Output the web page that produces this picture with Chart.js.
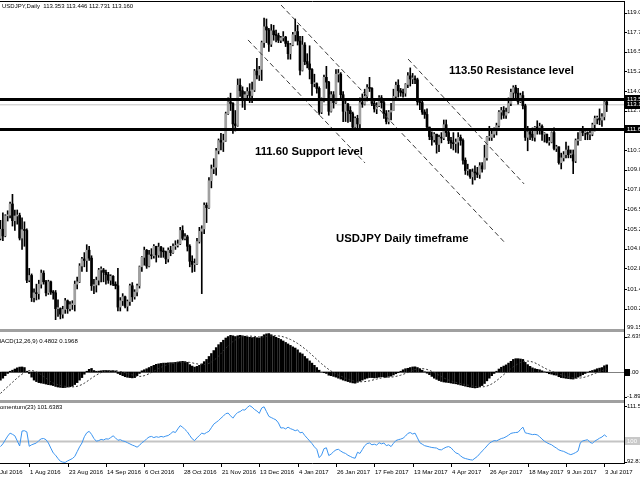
<!DOCTYPE html>
<html>
<head>
<meta charset="utf-8">
<script src="https://cdn.jsdelivr.net/npm/chart.js@4.4.1/dist/chart.umd.min.js"></script>
<style>
  html, body { margin: 0; padding: 0; background: #fff; }
  #wrap { position: relative; width: 640px; height: 480px; overflow: hidden; background: #fff; }
  canvas { position: absolute; left: 0; }
</style>
</head>
<body>
<div id="wrap">
  <canvas id="mainChart" width="640" height="330" style="top:0px"></canvas>
  <canvas id="macdChart" width="640" height="74" style="top:329px"></canvas>
  <canvas id="momChart" width="640" height="80" style="top:400px"></canvas>
</div>
<script>
// === Datos: USDJPY diario, 14 jul 2016 - 4 jul 2017 (una vela por dia habil) ===
const aperturaInicial = 104.70; // apertura de la primera vela; las demas abren en el cierre anterior

const cierres = [
  105.28, 104.86,
  106.13, 106.17, 106.88, 105.82, 106.12,
  106.15, 104.72, 105.25, 105.20, 102.05,
  102.35, 100.95, 101.25, 101.20, 101.80,
  102.50, 101.95, 101.25, 101.95, 101.30,
  101.25, 100.25, 100.25, 99.90, 100.20,
  100.75, 100.25, 100.50, 100.50, 101.80,
  101.95, 102.95, 103.40, 103.30, 103.95,
  103.45, 101.70, 101.75, 102.05, 102.70,
  102.70, 102.55, 102.40, 102.05, 102.30,
  101.80, 101.70, 100.35, 100.75, 101.00,
  100.40, 100.70, 101.70, 101.00, 101.30,
  101.70, 102.90, 103.50, 103.95, 102.95,
  103.65, 103.60, 104.20, 103.65, 104.15,
  103.90, 103.85, 103.40, 103.95, 103.80,
  104.20, 104.25, 104.35, 105.20, 104.70,
  104.80, 104.20, 103.25, 103.05, 103.10,
  104.50, 105.15, 105.30, 106.80, 106.65,
  108.35, 109.10, 109.20, 110.25, 110.90,
  110.80, 110.90, 112.60, 113.35, 113.25,
  111.95, 111.85, 114.40, 114.05, 113.50,
  113.80, 114.00, 113.75, 114.10, 115.30,
  115.05, 115.40, 117.10, 118.10, 117.90,
  117.00, 117.85, 117.60, 117.55, 117.25,
  117.40, 117.45, 117.05, 116.40, 116.95,
  117.60, 117.80, 117.20, 115.35, 116.95,
  115.90, 115.75, 115.40, 114.50, 114.50,
  114.20, 112.70, 113.40, 114.90, 114.60,
  112.75, 113.80, 113.30, 115.10, 115.10,
  113.80, 112.75, 113.20, 112.80, 112.60,
  111.75, 112.30, 111.95, 113.30, 113.20,
  113.70, 114.25, 114.20, 113.25, 112.90,
  113.10, 113.60, 113.30, 112.60, 112.10,
  112.70, 112.80, 113.70, 114.40, 114.05,
  113.95, 113.90, 114.45, 115.00, 114.80,
  114.80, 114.75, 113.35, 113.30, 112.70,
  112.55, 111.75, 111.15, 110.95, 111.30,
  110.65, 111.10, 111.05, 111.90, 111.40,
  110.90, 110.75, 110.70, 110.80, 111.10,
  110.90, 109.65, 109.00, 109.05, 108.60,
  108.90, 108.85, 108.75, 109.30, 109.10,
  109.80, 111.10, 111.10, 111.30, 111.50,
  111.85, 112.70, 112.80, 112.50, 112.70,
  113.25, 113.95, 114.25, 113.90, 113.35,
  113.75, 113.10, 111.10, 111.45, 111.30,
  111.10, 111.75, 111.60, 111.80, 111.30,
  111.30, 110.80, 110.80, 111.40, 110.40,
  110.50, 109.50, 109.80, 110.00, 110.30,
  110.00, 110.00, 109.60, 110.90, 110.90,
  111.55, 111.40, 111.40, 111.30, 111.30,
  111.90, 112.30, 112.30, 112.20, 112.40,
  113.35, 113.16
];

const maximos = [
  105.85, 106.32,
  106.20, 106.45, 107.00, 107.49, 106.50,
  106.50, 106.30, 106.00, 105.75, 105.30,
  102.80, 102.45, 101.50, 101.80, 102.05,
  102.70, 102.65, 102.05, 102.05, 102.00,
  101.40, 101.40, 100.80, 100.30, 100.40,
  100.90, 100.80, 100.70, 100.75, 102.00,
  102.25, 103.10, 103.50, 103.80, 104.30,
  104.20, 103.60, 102.10, 102.25, 102.80,
  102.90, 102.80, 102.70, 102.55, 102.40,
  102.35, 101.95, 102.80, 100.95, 101.20,
  101.05, 100.80, 101.80, 101.90, 101.45,
  101.80, 102.95, 103.55, 104.15, 104.00,
  103.95, 104.05, 104.30, 104.20, 104.40,
  104.20, 104.10, 103.90, 104.10, 104.20,
  104.35, 104.55, 104.60, 105.40, 105.50,
  105.00, 104.90, 104.30, 103.60, 103.40,
  104.70, 105.40, 105.50, 106.95, 106.95,
  108.55, 109.35, 109.75, 110.40, 111.00,
  111.35, 111.30, 112.70, 113.60, 113.90,
  113.30, 112.80, 114.80, 114.80, 114.30,
  114.00, 114.25, 114.50, 114.60, 115.40,
  116.10, 115.60, 117.20, 118.66, 118.60,
  118.00, 118.25, 118.20, 117.90, 117.70,
  117.50, 117.80, 117.50, 117.20, 117.05,
  117.75, 118.60, 118.20, 117.50, 117.50,
  117.10, 116.40, 116.90, 115.45, 115.10,
  114.55, 114.30, 113.60, 115.05, 115.60,
  114.65, 114.00, 114.00, 115.40, 115.40,
  115.20, 114.00, 113.40, 113.25, 113.05,
  112.70, 112.40, 112.50, 113.60, 113.85,
  114.15, 114.45, 114.90, 114.25, 113.55,
  113.30, 113.75, 113.75, 113.40, 112.80,
  112.80, 113.25, 114.15, 114.60, 114.75,
  114.20, 114.15, 114.50, 115.20, 115.50,
  115.15, 115.00, 114.85, 113.55, 113.40,
  112.85, 112.90, 111.75, 111.45, 111.40,
  111.30, 111.25, 111.40, 112.20, 112.20,
  111.60, 111.10, 111.40, 111.00, 111.40,
  111.25, 111.00, 109.80, 109.40, 109.05,
  109.10, 109.30, 109.20, 109.50, 109.50,
  110.60, 111.15, 111.80, 111.50, 111.70,
  112.00, 112.80, 113.00, 113.05, 112.95,
  113.60, 114.15, 114.37, 114.40, 114.20,
  113.90, 114.00, 113.20, 111.80, 111.60,
  111.70, 111.80, 112.15, 112.00, 111.90,
  111.40, 111.30, 111.10, 111.45, 111.70,
  110.60, 110.50, 110.10, 110.20, 110.80,
  110.55, 110.30, 110.30, 111.00, 111.40,
  111.60, 111.80, 111.60, 111.45, 111.50,
  112.00, 112.45, 112.45, 112.90, 112.60,
  113.45, 113.446
];

const minimos = [
  104.60, 104.55,
  104.80, 105.80, 106.00, 105.48, 105.20,
  105.60, 104.60, 104.00, 104.20, 101.90,
  101.95, 100.70, 100.68, 100.80, 100.85,
  101.55, 101.80, 101.05, 101.15, 101.15,
  100.85, 99.55, 99.75, 99.60, 99.65,
  99.95, 99.95, 100.10, 100.20, 100.10,
  101.50, 101.90, 102.60, 102.90, 102.60,
  103.30, 101.40, 101.20, 101.30, 101.75,
  101.95, 101.95, 101.80, 101.85, 101.75,
  101.70, 101.50, 100.10, 100.10, 100.45,
  100.30, 100.10, 100.45, 100.70, 100.85,
  101.05, 101.55, 102.60, 103.00, 102.80,
  102.90, 103.40, 103.45, 103.20, 103.50,
  103.50, 103.50, 103.10, 103.20, 103.60,
  103.75, 104.00, 104.15, 104.30, 104.60,
  104.60, 103.90, 102.90, 102.55, 102.60,
  103.05, 104.40, 101.20, 105.00, 105.70,
  106.60, 107.90, 108.80, 108.70, 110.05,
  110.30, 110.20, 110.85, 112.55, 112.80,
  111.35, 111.50, 111.80, 113.70, 113.00,
  112.85, 113.60, 113.30, 113.30, 114.00,
  114.80, 114.70, 114.70, 116.80, 117.10,
  116.55, 116.85, 117.25, 117.15, 117.10,
  117.10, 117.20, 116.85, 116.05, 116.05,
  116.90, 117.20, 116.95, 115.05, 115.30,
  115.70, 115.50, 114.80, 113.75, 114.30,
  113.90, 112.55, 112.60, 113.35, 114.20,
  112.50, 112.70, 112.95, 113.25, 114.60,
  113.55, 112.10, 112.10, 112.05, 112.10,
  111.60, 111.60, 111.60, 111.70, 113.00,
  113.15, 113.40, 114.00, 113.10, 112.70,
  112.60, 113.05, 112.95, 112.30, 111.95,
  111.95, 112.20, 112.80, 113.60, 113.65,
  113.70, 113.65, 113.70, 114.25, 114.35,
  114.50, 114.50, 113.15, 112.85, 112.55,
  112.30, 111.70, 110.95, 110.60, 110.80,
  110.10, 110.20, 110.75, 110.95, 111.15,
  110.70, 110.40, 110.30, 110.15, 110.10,
  110.60, 109.40, 108.75, 108.70, 108.50,
  108.13, 108.40, 108.55, 108.50, 108.90,
  109.10, 109.65, 110.90, 110.90, 111.10,
  111.25, 111.75, 112.25, 112.30, 112.30,
  112.65, 113.10, 113.60, 113.50, 113.20,
  113.30, 112.90, 110.90, 110.25, 110.95,
  110.90, 110.85, 111.30, 111.30, 110.90,
  110.80, 110.75, 110.60, 110.75, 110.30,
  110.20, 109.40, 109.10, 109.60, 109.80,
  109.80, 109.80, 108.80, 109.50, 110.60,
  110.90, 111.20, 110.95, 110.95, 110.95,
  111.20, 111.50, 111.95, 111.90, 111.80,
  112.20, 112.731
];

const macdPrincipal = [
  -0.55, -0.42, -0.25, -0.10, 0.05, 0.12, 0.20, 0.28, 0.33, 0.34,
  0.30, 0.05, -0.10, -0.35, -0.55, -0.65, -0.72, -0.75, -0.78, -0.82,
  -0.86, -0.88, -0.92, -0.98, -1.02, -1.04, -1.06, -1.05, -1.02, -1.00,
  -0.96, -0.85, -0.72, -0.55, -0.38, -0.15, 0.05, 0.18, 0.24, 0.10,
  0.05, 0.06, 0.08, 0.10, 0.10, 0.09, 0.08, 0.08, 0.07, -0.10,
  -0.18, -0.25, -0.32, -0.36, -0.38, -0.40, -0.38, -0.25, -0.10, 0.08,
  0.15, 0.22, 0.30, 0.38, 0.45, 0.52, 0.55, 0.58, 0.60, 0.60,
  0.62, 0.63, 0.63, 0.65, 0.68, 0.70, 0.72, 0.70, 0.65, 0.50,
  0.40, 0.33, 0.38, 0.45, 0.55, 0.70, 0.85, 1.05, 1.25, 1.45,
  1.65, 1.85, 2.00, 2.15, 2.30, 2.40, 2.48, 2.45, 2.40, 2.45,
  2.48, 2.45, 2.42, 2.38, 2.35, 2.33, 2.35, 2.32, 2.30, 2.40,
  2.52, 2.58, 2.60, 2.52, 2.42, 2.35, 2.28, 2.20, 2.10, 2.00,
  1.90, 1.80, 1.70, 1.62, 1.50, 1.30, 1.22, 1.05, 0.90, 0.75,
  0.60, 0.45, 0.30, 0.12, 0.00, -0.05, -0.10, -0.22, -0.25, -0.30,
  -0.35, -0.42, -0.48, -0.55, -0.60, -0.65, -0.70, -0.74, -0.76, -0.70,
  -0.62, -0.55, -0.48, -0.42, -0.38, -0.38, -0.40, -0.38, -0.35, -0.32,
  -0.34, -0.36, -0.30, -0.28, -0.20, -0.12, -0.05, 0.05, 0.15, 0.22,
  0.25, 0.30, 0.34, 0.35, 0.30, 0.22, 0.12, 0.02, -0.08, -0.18,
  -0.30, -0.42, -0.50, -0.58, -0.64, -0.68, -0.70, -0.72, -0.75, -0.78,
  -0.80, -0.84, -0.88, -0.92, -0.96, -1.00, -1.03, -1.06, -1.08, -1.06,
  -1.00, -0.92, -0.78, -0.60, -0.42, -0.25, -0.10, 0.05, 0.20, 0.32,
  0.40, 0.48, 0.60, 0.72, 0.85, 0.90, 0.90, 0.88, 0.85, 0.65,
  0.50, 0.38, 0.28, 0.22, 0.18, 0.15, 0.08, 0.02, -0.05, -0.12,
  -0.15, -0.20, -0.22, -0.32, -0.38, -0.40, -0.43, -0.45, -0.47, -0.48,
  -0.42, -0.35, -0.28, -0.18, -0.10, -0.02, 0.05, 0.10, 0.15, 0.22,
  0.26, 0.30, 0.42, 0.48
];

const macdSenal = [
  -1.45, -1.30, -1.15, -1.00, -0.85, -0.70, -0.55, -0.40, -0.27, -0.15,
  -0.04, 0.05, 0.10, 0.10, 0.06, 0.00, -0.08, -0.18, -0.30, -0.42,
  -0.55, -0.66, -0.75, -0.82, -0.87, -0.91, -0.94, -0.97, -0.99, -1.01,
  -1.01, -1.00, -0.97, -0.92, -0.85, -0.76, -0.65, -0.54, -0.42, -0.31,
  -0.21, -0.12, -0.04, 0.03, 0.07, 0.09, 0.09, 0.08, 0.08, 0.06,
  0.03, 0.00, -0.05, -0.10, -0.15, -0.20, -0.25, -0.29, -0.30, -0.29,
  -0.25, -0.19, -0.12, -0.04, 0.05, 0.14, 0.23, 0.32, 0.40, 0.46,
  0.52, 0.56, 0.59, 0.61, 0.63, 0.65, 0.66, 0.67, 0.67, 0.65,
  0.62, 0.58, 0.55, 0.52, 0.50, 0.50, 0.53, 0.58, 0.67, 0.78,
  0.92, 1.07, 1.24, 1.42, 1.60, 1.77, 1.93, 2.06, 2.17, 2.27,
  2.34, 2.39, 2.42, 2.43, 2.43, 2.42, 2.41, 2.39, 2.37, 2.37,
  2.38, 2.40, 2.42, 2.44, 2.45, 2.45, 2.44, 2.42, 2.38, 2.33,
  2.27, 2.20, 2.12, 2.03, 1.93, 1.82, 1.70, 1.57, 1.44, 1.30,
  1.15, 1.00, 0.85, 0.70, 0.56, 0.42, 0.29, 0.17, 0.06, -0.04,
  -0.13, -0.21, -0.28, -0.35, -0.42, -0.48, -0.54, -0.59, -0.63, -0.65,
  -0.66, -0.66, -0.65, -0.63, -0.60, -0.56, -0.52, -0.48, -0.44, -0.40,
  -0.38, -0.37, -0.36, -0.35, -0.33, -0.30, -0.26, -0.22, -0.16, -0.10,
  -0.03, 0.04, 0.11, 0.17, 0.21, 0.23, 0.23, 0.21, 0.17, 0.11,
  0.04, -0.04, -0.13, -0.22, -0.31, -0.40, -0.48, -0.55, -0.61, -0.66,
  -0.70, -0.74, -0.78, -0.82, -0.86, -0.89, -0.92, -0.95, -0.98, -1.00,
  -1.01, -1.01, -0.99, -0.95, -0.89, -0.81, -0.71, -0.59, -0.46, -0.32,
  -0.18, -0.05, 0.09, 0.22, 0.35, 0.46, 0.56, 0.64, 0.70, 0.73,
  0.74, 0.72, 0.68, 0.62, 0.54, 0.45, 0.36, 0.27, 0.19, 0.12,
  0.05, -0.01, -0.07, -0.13, -0.19, -0.25, -0.30, -0.34, -0.38, -0.41,
  -0.42, -0.42, -0.41, -0.38, -0.34, -0.29, -0.23, -0.17, -0.10, -0.04,
  0.03, 0.09, 0.15, 0.20
];

// Momentum(23)
const momento = [
  98.3, 99.2, 100.5, 101.8, 102.8, 102.4, 101.9, 100.2, 98.5, 103.5,
  103.6, 103.2, 98.4, 98.9, 99.2, 99.5, 100.3, 100.9, 101.0, 100.6,
  99.5, 97.8, 96.2, 95.4, 94.3, 93.4, 93.1, 93.0, 93.5, 93.9,
  94.3, 95.0, 96.6, 98.2, 99.5, 101.6, 102.9, 103.4, 102.4, 101.0,
  100.1, 100.3, 100.7, 100.5, 100.9, 100.8, 101.3, 101.9, 101.2, 100.4,
  100.6, 100.2, 100.0, 99.6, 99.2, 98.8, 98.5, 98.1, 98.7, 99.6,
  100.1, 100.9, 101.5, 101.7, 101.3, 101.6, 101.4, 101.7, 101.5, 101.8,
  102.0, 102.6, 103.3, 103.0, 104.2, 105.3, 104.8, 104.0, 103.2, 102.0,
  100.9, 100.3, 101.2, 102.0, 102.8, 102.5, 103.0, 103.4, 104.6, 105.8,
  106.4, 107.0, 107.8, 108.5, 109.3, 109.5, 108.6, 107.8, 108.9, 109.7,
  110.0, 110.6, 110.5, 111.4, 112.0, 111.5, 110.7, 110.2, 109.4, 111.2,
  111.6, 110.0, 108.4, 108.0, 107.6, 107.2, 106.2, 104.5, 104.6, 104.2,
  104.8, 104.3, 104.0, 103.6, 103.9, 102.9, 103.1, 102.0, 101.1, 100.2,
  99.3, 98.2, 97.4, 94.6, 95.5, 97.6, 97.9, 95.3, 95.8, 96.6,
  97.2, 97.4, 96.8, 96.3, 96.0, 95.4, 95.0, 94.6, 94.4, 96.4,
  96.0, 97.3, 98.6, 99.3, 99.5, 98.9, 99.1, 98.8, 99.6, 99.2,
  99.5, 98.6, 98.9, 98.3, 99.4, 100.3, 100.6, 100.8, 101.1, 101.8,
  102.7, 103.0, 102.5, 102.8, 101.2, 99.6, 99.1, 98.6, 98.4, 98.2,
  98.0, 97.9, 97.8, 97.3, 97.2, 97.7, 98.1, 98.3, 97.9, 97.0,
  96.2, 95.9, 95.2, 94.6, 94.3, 94.1, 93.9, 93.8, 94.4, 95.0,
  95.9, 96.8, 97.6, 98.5, 99.4, 99.9, 100.3, 100.2, 100.6, 101.0,
  101.2, 101.6, 102.1, 102.7, 102.9, 103.0, 103.1, 104.0, 104.8, 102.9,
  102.7, 102.5, 102.3, 102.4, 102.2, 101.6, 100.8, 100.1, 99.6, 99.2,
  98.9, 98.3, 97.8, 97.2, 96.9, 96.7, 96.3, 95.9, 95.6, 95.9,
  96.3, 96.8, 99.6, 100.2, 100.4, 100.6, 99.7, 99.4, 100.1, 100.6,
  101.1, 101.5, 102.2, 101.6
];

// Eje de tiempo: etiqueta y vela (indice) donde va
const etiquetasFecha = ["11 Jul 2016", "1 Aug 2016", "23 Aug 2016", "14 Sep 2016", "6 Oct 2016",
  "28 Oct 2016", "21 Nov 2016", "13 Dec 2016", "4 Jan 2017", "26 Jan 2017", "17 Feb 2017",
  "13 Mar 2017", "4 Apr 2017", "26 Apr 2017", "18 May 2017", "9 Jun 2017", "3 Jul 2017"];
const barrasFecha = [-4, 12, 28, 44, 60, 76, 92, 108, 124, 140, 156, 172, 188, 204, 220, 236, 252];

// Eje de precios
const ticksPrecio = [119.00, 117.75, 116.52, 115.29, 114.04, 112.79, 111.54, 110.30,
  109.05, 107.80, 106.55, 105.29, 104.05, 102.80, 101.49, 100.24];

const resistencia = 113.50;
const soporte = 111.60;
const precioBid = 113.16;

// Lineas de tendencia: [vela inicio, precio inicio, vela fin, precio fin]
const lineasTendencia = [
  [117.1, 119.48, 210.6, 104.41],
  [103.3, 117.27, 152.1, 109.48],
  [170.1, 116.06, 218.5, 108.15]
];

// === Configuracion comun ===
const X_MIN = -0.2;
const X_MAX = 260.2;
const EJE_X = 624;
const FUENTE = '6px "Liberation Sans", Arial, sans-serif';
const FUENTE_NOTA = 'bold 11.3px "Liberation Sans", Arial, sans-serif';
const GRIS_SEPARADOR = "#a0a0a0";

function opcionesBase(yMin, yMax, padding) {
  return {
    responsive: false,
    animation: false,
    devicePixelRatio: 1,
    events: [],
    layout: { padding },
    plugins: { legend: { display: false }, tooltip: { enabled: false } },
    scales: {
      x: { type: "linear", min: X_MIN, max: X_MAX, offset: false, display: false },
      y: { min: yMin, max: yMax, beginAtZero: false, display: false }
    }
  };
}

function lineaHorizontal(valor) {
  return [{ x: X_MIN - 5, y: valor }, { x: X_MAX + 5, y: valor }];
}

function etiquetaCaja(ctx, texto, y, fondo, color) {
  ctx.fillStyle = fondo;
  ctx.fillRect(EJE_X + 1, Math.round(y) - 4, 20, 8);
  ctx.fillStyle = color;
  ctx.fillText(texto, EJE_X + 3, y);
}

function marcaEje(ctx, y) {
  ctx.fillStyle = "#000";
  ctx.fillRect(EJE_X + 1, Math.round(y), 2, 1);
}

// === Grafico principal (velas) ===
const aperturas = cierres.map((c, i) => (i === 0 ? aperturaInicial : cierres[i - 1]));
const datosMecha = maximos.map((h, i) => ({ x: i, y: [minimos[i], h] }));
const datosCuerpo = cierres.map((c, i) => ({ x: i, y: [aperturas[i], c] }));

const decoracionPrincipal = {
  id: "decoracionPrincipal",
  afterDraw(chart) {
    const { ctx } = chart;
    const y = chart.scales.y;
    ctx.save();
    // marco
    ctx.strokeStyle = "#000";
    ctx.lineWidth = 1;
    ctx.beginPath();
    ctx.moveTo(0, 1.5);
    ctx.lineTo(EJE_X + 1, 1.5);
    ctx.moveTo(EJE_X + 0.5, 1);
    ctx.lineTo(EJE_X + 0.5, 330);
    ctx.stroke();

    ctx.font = FUENTE;
    ctx.textBaseline = "middle";
    ctx.textAlign = "left";
    ticksPrecio.forEach(v => {
      const py = y.getPixelForValue(v);
      marcaEje(ctx, py);
      ctx.fillText(v.toFixed(3), EJE_X + 3, py);
    });
    ctx.fillText("99.150", EJE_X + 3, 327.5);

    etiquetaCaja(ctx, resistencia.toFixed(3), y.getPixelForValue(resistencia), "#000", "#fff");
    etiquetaCaja(ctx, precioBid.toFixed(3), y.getPixelForValue(precioBid), "#000", "#fff");
    etiquetaCaja(ctx, soporte.toFixed(3), y.getPixelForValue(soporte), "#000", "#fff");

    // titulo
    ctx.fillStyle = "#000";
    ctx.fillText("USDJPY,Daily  113.353 113.446 112.731 113.160", 2, 6.5);

    // notas
    ctx.font = FUENTE_NOTA;
    ctx.fillText("113.50 Resistance level", 449, 71);
    ctx.fillText("111.60 Support level", 255, 151.5);
    ctx.fillText("USDJPY Daily timeframe", 336, 239);
    ctx.restore();
  }
};

new Chart(document.getElementById("mainChart"), {
  type: "bar",
  data: {
    datasets: [
      { type: "line", data: lineaHorizontal(resistencia), borderColor: "#000", borderWidth: 3, pointRadius: 0, order: 0 },
      { type: "line", data: lineaHorizontal(soporte), borderColor: "#000", borderWidth: 3, pointRadius: 0, order: 0 },
      ...lineasTendencia.map(t => ({
        type: "line",
        data: [{ x: t[0], y: t[1] }, { x: t[2], y: t[3] }],
        borderColor: "#3a3a3a",
        borderWidth: 1,
        borderDash: [5, 3],
        pointRadius: 0,
        order: 0
      })),
      {
        data: datosCuerpo,
        backgroundColor: c => (cierres[c.dataIndex] >= aperturas[c.dataIndex] ? "#a0a0a0" : "#000"),
        barThickness: 2,
        minBarLength: 1,
        grouped: false,
        order: 1
      },
      { data: datosMecha, backgroundColor: "#000", barThickness: 1, grouped: false, order: 2 },
      { type: "line", data: lineaHorizontal(precioBid), borderColor: "#c4c4c4", borderWidth: 1, pointRadius: 0, order: 3 }
    ]
  },
  options: opcionesBase(98.96, 119.61, { left: 0, right: 16, top: 3, bottom: 1 }),
  plugins: [decoracionPrincipal]
});

// === Panel MACD ===
const decoracionMacd = {
  id: "decoracionMacd",
  beforeDatasetsDraw(chart) {
    const { ctx } = chart;
    const y0 = Math.round(chart.scales.y.getPixelForValue(0)) + 0.5;
    ctx.save();
    ctx.strokeStyle = "#808080";
    ctx.lineWidth = 1;
    ctx.beginPath();
    ctx.moveTo(0, y0);
    ctx.lineTo(EJE_X, y0);
    ctx.stroke();
    ctx.restore();
  },
  afterDraw(chart) {
    const { ctx } = chart;
    const y = chart.scales.y;
    ctx.save();
    ctx.fillStyle = GRIS_SEPARADOR;
    ctx.fillRect(0, 0, EJE_X, 3);
    ctx.fillRect(0, 71, EJE_X, 3);
    ctx.strokeStyle = "#000";
    ctx.beginPath();
    ctx.moveTo(EJE_X + 0.5, 0);
    ctx.lineTo(EJE_X + 0.5, 74);
    ctx.stroke();

    ctx.font = FUENTE;
    ctx.textBaseline = "middle";
    ctx.fillStyle = "#000";
    marcaEje(ctx, 7.5);
    ctx.fillText("2.639", EJE_X + 3, 7.7);
    const y0 = y.getPixelForValue(0);
    ctx.fillRect(EJE_X + 1, Math.round(y0) - 3, 5, 7);
    ctx.fillText("0.00", EJE_X + 3, y0);
    marcaEje(ctx, 67.5);
    ctx.fillText("-1.897", EJE_X + 3, 67.7);
    ctx.fillText("MACD(12,26,9) 0.4802 0.1968", -4, 12.5);
    ctx.restore();
  }
};

new Chart(document.getElementById("macdChart"), {
  type: "bar",
  data: {
    datasets: [
      {
        type: "line",
        data: macdSenal.map((v, i) => ({ x: i, y: v })),
        borderColor: "#333",
        borderWidth: 1,
        borderDash: [2, 2],
        pointRadius: 0,
        order: 0
      },
      {
        data: macdPrincipal.map((v, i) => ({ x: i, y: v })),
        backgroundColor: "#000",
        barThickness: 1.8,
        grouped: false,
        order: 1
      }
    ]
  },
  options: opcionesBase(-1.897, 2.639, { left: 0, right: 16, top: 4, bottom: 3 }),
  plugins: [decoracionMacd]
});

// === Panel Momentum + eje de tiempo ===
const decoracionMomento = {
  id: "decoracionMomento",
  beforeDatasetsDraw(chart) {
    const { ctx } = chart;
    const y100 = chart.scales.y.getPixelForValue(100);
    ctx.save();
    ctx.strokeStyle = "#c4c4c4";
    ctx.lineWidth = 2;
    ctx.beginPath();
    ctx.moveTo(0, y100);
    ctx.lineTo(EJE_X, y100);
    ctx.stroke();
    ctx.restore();
  },
  afterDraw(chart) {
    const { ctx } = chart;
    const x = chart.scales.x;
    const y = chart.scales.y;
    ctx.save();
    ctx.strokeStyle = "#000";
    ctx.lineWidth = 1;
    ctx.beginPath();
    ctx.moveTo(EJE_X + 0.5, 0);
    ctx.lineTo(EJE_X + 0.5, 63.5);
    ctx.moveTo(0, 63.5);
    ctx.lineTo(EJE_X + 1, 63.5);
    ctx.stroke();

    ctx.font = FUENTE;
    ctx.textBaseline = "middle";
    ctx.fillStyle = "#000";
    marcaEje(ctx, 6);
    ctx.fillText("111.5351", EJE_X + 3, 6);
    etiquetaCaja(ctx, "100", y.getPixelForValue(100), "#c8c8c8", "#fff");
    ctx.fillStyle = "#000";
    marcaEje(ctx, 61.5);
    ctx.fillText("92.81", EJE_X + 3, 61.7);
    ctx.fillText("Momentum(23) 101.6383", -5, 7.5);

    // etiquetas de fecha
    barrasFecha.forEach((b, i) => {
      const px = Math.round(x.getPixelForValue(b));
      ctx.fillRect(px, 64, 1, 3);
      ctx.fillText(etiquetasFecha[i], px + 1, 72.3);
    });
    ctx.restore();
  }
};

new Chart(document.getElementById("momChart"), {
  type: "line",
  data: {
    datasets: [
      {
        data: momento.map((v, i) => ({ x: i, y: v })),
        borderColor: "#3b94f0",
        borderWidth: 1,
        pointRadius: 0,
        tension: 0
      }
    ]
  },
  options: opcionesBase(92.81, 112.2, { left: 0, right: 16, top: 5, bottom: 17 }),
  plugins: [decoracionMomento]
});
</script>
</body>
</html>
